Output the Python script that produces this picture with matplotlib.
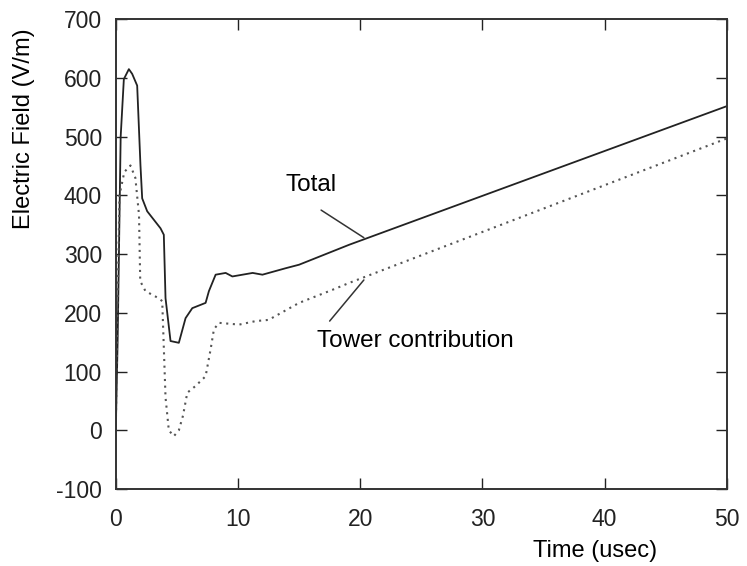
import numpy as np
import matplotlib.pyplot as plt

# values
t_total = [0.0, 0.15, 0.4, 0.66, 1.07, 1.34, 1.75, 2.02, 2.16, 2.57, 3.66, 3.93,
           4.07, 4.48, 5.16, 5.71, 6.26, 7.35, 7.62, 8.17, 8.99, 9.54, 11.2, 12.0,
           13.9, 15.0, 19.1, 50.0]
e_total = [0, 150, 500, 598, 615, 607, 587, 451, 395, 373, 344, 333,
           225, 152, 149, 191, 208, 217, 237, 265, 268, 262, 268, 265,
           276, 282, 316, 552]

t_tower = [0.0, 0.1, 0.3, 0.7, 1.2, 1.6, 1.9, 2.0, 2.43, 3.5, 3.8, 3.93,
           4.07, 4.34, 4.75, 5.16, 5.5, 5.85, 6.5, 7.35, 7.76, 8.03, 8.44,
           10.1, 11.45, 12.5, 15.0, 17.7, 19.1, 50.0]
e_tower = [0, 150, 400, 440, 451, 430, 367, 254, 237, 225, 220, 141,
           56, 0, -10, 0, 25, 64, 75, 92, 138, 172, 183,
           180, 186, 188, 217, 239, 251, 497]

x_ticks = [0, 10, 20, 30, 40, 50]
y_ticks = [-100, 0, 100, 200, 300, 400, 500, 600, 700]

plt.rcParams['font.family'] = ['Liberation Sans', 'DejaVu Sans']
plt.rcParams['axes.unicode_minus'] = False

fig = plt.figure(figsize=(7.47, 5.66), dpi=100)
ax = fig.add_axes([0.155, 0.136, 0.818, 0.830])

ax.plot(t_total, e_total, color='#222222', lw=1.3)
ax.plot(t_tower, e_tower, color='#555555', lw=1.5, linestyle=(0, (1, 2.2)))

ax.set_xlim(0, 50)
ax.set_ylim(-100, 700)
ax.set_xticks(x_ticks)
ax.set_yticks(y_ticks)
ax.tick_params(direction='in', length=8, width=1, labelsize=16.5,
               top=True, right=True, colors='#222222')
ax.tick_params(axis='x', pad=14)
ax.tick_params(axis='y', pad=10)
for s in ax.spines.values():
    s.set_linewidth(1.4)
    s.set_color('#333333')

ax.set_xlabel('Time (usec)', fontsize=17)
ax.xaxis.set_label_coords(0.784, -0.108)
ax.set_ylabel('Electric Field (V/m)', fontsize=17)
ax.yaxis.set_label_coords(-0.133, 0.767)

# labels with their leader lines
ax.text(16.0, 418, 'Total', fontsize=17.5, ha='center', va='center')
ax.annotate('', xy=(20.3, 328), xytext=(16.8, 375),
            arrowprops=dict(arrowstyle='-', color='#333333', lw=1.1,
                            shrinkA=0, shrinkB=0))
ax.text(16.5, 152, 'Tower contribution', fontsize=17.5, ha='left', va='center')
ax.annotate('', xy=(20.3, 256), xytext=(17.5, 186),
            arrowprops=dict(arrowstyle='-', color='#333333', lw=1.1,
                            shrinkA=0, shrinkB=0))

fig.savefig('out.png', dpi=100)
